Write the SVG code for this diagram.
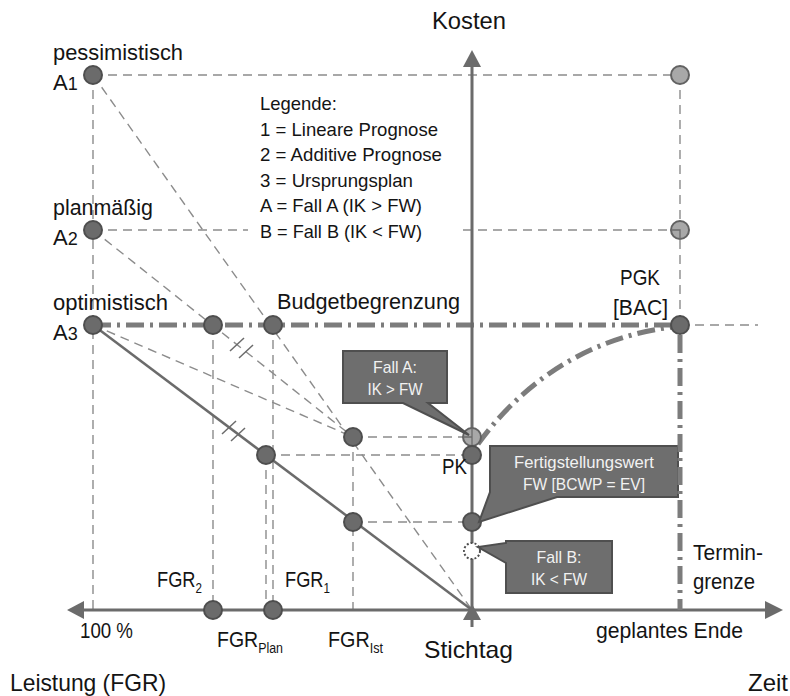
<svg xmlns="http://www.w3.org/2000/svg" width="790" height="696" viewBox="0 0 790 696">
  <defs>
    <style>
      text { font-family: "Liberation Sans Narrow", "Liberation Sans", Arial, sans-serif; fill: #141414; }
      .lbl { font-size: 22px; }
      .big { font-size: 24px; }
      .leg { font-size: 19px; }
      .sub { font-size: 14px; }
      .box-t { font-size: 17px; fill: #f2f2f2; text-anchor: middle; }
      .thin { stroke: #8c8c8c; stroke-width: 1.4; stroke-dasharray: 9 6; fill: none; }
      .thick { stroke: #7c7c7c; stroke-width: 5; stroke-dasharray: 18 6 3 6; fill: none; }
      .axis { stroke: #6b6b6b; stroke-width: 3; fill: none; }
      .tick { stroke: #6b6b6b; stroke-width: 1.5; }
      .pt { fill: #6b6b6b; stroke: #4e4e4e; stroke-width: 2; }
      .pt-light { fill: #a8a8a8; stroke: #626262; stroke-width: 2; }
      .callout { fill: #6e6e6e; stroke: #4f4f4f; stroke-width: 2; stroke-linejoin: miter; }
      .head { fill: #6b6b6b; }
    </style>
  </defs>

  <rect width="790" height="696" fill="#ffffff"/>

  <!-- connectors: guide lines, prognosis lines and axes -->
  <g id="connectors">
    <!-- thin dashed guides -->
    <line class="thin" x1="93" y1="75" x2="93" y2="610"/>
    <line class="thin" x1="93" y1="75" x2="680" y2="75"/>
    <line class="thin" x1="93" y1="230" x2="248" y2="230"/>
    <line class="thin" x1="463" y1="230" x2="680" y2="230"/>
    <line class="thin" x1="680" y1="75" x2="680" y2="325"/>
    <line class="thin" x1="680" y1="325" x2="758" y2="325"/>
    <line class="thin" x1="213" y1="325" x2="213" y2="610"/>
    <line class="thin" x1="273" y1="325" x2="273" y2="610"/>
    <line class="thin" x1="266" y1="455" x2="266" y2="610"/>
    <line class="thin" x1="353" y1="437" x2="353" y2="610"/>
    <line class="thin" x1="353" y1="437" x2="472" y2="437"/>
    <line class="thin" x1="266" y1="455" x2="472" y2="455"/>
    <line class="thin" x1="353" y1="522" x2="472" y2="522"/>
    <!-- prognosis rays -->
    <line class="thin" x1="93" y1="75" x2="472" y2="610"/>
    <line class="thin" x1="93" y1="230" x2="353" y2="437"/>
    <line class="thin" x1="93" y1="325" x2="353" y2="437"/>
    <!-- original plan line -->
    <line x1="93" y1="325" x2="472" y2="610" stroke="#6b6b6b" stroke-width="2.5"/>
    <!-- parallel marks -->
    <line class="tick" x1="222" y1="434" x2="236" y2="421"/>
    <line class="tick" x1="231" y1="441" x2="245" y2="428"/>
    <line class="tick" x1="230" y1="351" x2="244" y2="338"/>
    <line class="tick" x1="239" y1="358" x2="253" y2="345"/>
    <!-- budget limit and cost curve -->
    <line class="thick" x1="93" y1="325" x2="680" y2="325"/>
    <path class="thick" d="M478,444 C510,400 570,340 672,327"/>
    <!-- axes -->
    <line class="axis" x1="83" y1="610" x2="766" y2="610"/>
    <line class="axis" x1="472" y1="627" x2="472" y2="66"/>
    <polygon class="head" points="67,610 84,601 84,619"/>
    <polygon class="head" points="783,610 765,601 765,619"/>
    <polygon class="head" points="472,50 463,67 481,67"/>
    <polygon class="head" points="472,604 463,620 481,620"/>
  </g>

  <!-- scenario points on the cost axis at 100 % -->
  <g id="node-a1"><circle class="pt" cx="93" cy="75" r="9"/></g>
  <g id="node-a2"><circle class="pt" cx="93" cy="230" r="9"/></g>
  <g id="node-a3"><circle class="pt" cx="93" cy="325" r="9"/></g>
  <!-- forecast end points -->
  <g id="node-end-pess"><circle class="pt-light" cx="680" cy="75" r="9"/></g>
  <g id="node-end-plan">
    <circle class="pt-light" cx="680" cy="230" r="9"/>
    <path d="M671,230 H680 V239" stroke="#6b6b6b" stroke-width="1.3" fill="none"/>
  </g>
  <g id="node-pgk"><circle class="pt" cx="680" cy="325" r="9"/></g>
  <!-- budget limit intersections -->
  <g id="node-b2"><circle class="pt" cx="213" cy="325" r="9"/></g>
  <g id="node-b1"><circle class="pt" cx="273" cy="325" r="9"/></g>
  <!-- intermediate points -->
  <g id="node-ist-cost"><circle class="pt" cx="353" cy="437" r="9"/></g>
  <g id="node-plan"><circle class="pt" cx="266" cy="455" r="9"/></g>
  <g id="node-ist"><circle class="pt" cx="353" cy="522" r="9"/></g>
  <!-- points on the reporting-date axis -->
  <g id="node-ik-a">
    <circle class="pt-light" cx="472" cy="437" r="9"/>
    <path d="M463,437 H472 M472,428 V446" stroke="#6b6b6b" stroke-width="1.3" fill="none"/>
  </g>
  <g id="node-pk"><circle class="pt" cx="472" cy="455" r="9"/></g>
  <g id="node-fw"><circle class="pt" cx="472" cy="522" r="9"/></g>
  <g id="node-ik-b"><circle cx="472" cy="551" r="8" fill="#ffffff" stroke="#4e4e4e" stroke-width="2" stroke-dasharray="2 2"/></g>
  <!-- progress axis points -->
  <g id="node-fgr2"><circle class="pt" cx="213" cy="610" r="9"/></g>
  <g id="node-fgrplan"><circle class="pt" cx="273" cy="610" r="9"/></g>

  <!-- callouts -->
  <g id="callout-a">
    <path class="callout" d="M343,351 H447 V403 H428 L469,435 L403,403 H343 Z"/>
    <text class="box-t" x="395" y="373" textLength="44" lengthAdjust="spacingAndGlyphs">Fall A:</text>
    <text class="box-t" x="395" y="395" textLength="55" lengthAdjust="spacingAndGlyphs">IK &gt; FW</text>
  </g>
  <g id="callout-fw">
    <path class="callout" d="M490,446 H678 V497 H557 L479,522 L490,492 Z"/>
    <text class="box-t" x="584" y="468" textLength="140" lengthAdjust="spacingAndGlyphs">Fertigstellungswert</text>
    <text class="box-t" x="584" y="490" textLength="122" lengthAdjust="spacingAndGlyphs">FW [BCWP = EV]</text>
  </g>
  <g id="callout-b">
    <path class="callout" d="M506,541 H612 V593 H506 V563 L478,547 L506,543 Z"/>
    <text class="box-t" x="559" y="563" textLength="45" lengthAdjust="spacingAndGlyphs">Fall B:</text>
    <text class="box-t" x="559" y="585" textLength="56" lengthAdjust="spacingAndGlyphs">IK &lt; FW</text>
  </g>

  <!-- deadline line drawn over the callout edge -->
  <g id="deadline">
    <line class="thick" x1="680" y1="335" x2="680" y2="610" stroke-width="4.5" stroke-dasharray="20 6 3 6"/>
  </g>

  <!-- legend -->
  <g id="legend">
    <text class="leg" x="260" y="110" textLength="77" lengthAdjust="spacingAndGlyphs">Legende:</text>
    <text class="leg" x="260" y="136" textLength="178" lengthAdjust="spacingAndGlyphs">1 = Lineare Prognose</text>
    <text class="leg" x="260" y="161" textLength="182" lengthAdjust="spacingAndGlyphs">2 = Additive Prognose</text>
    <text class="leg" x="260" y="187" textLength="153" lengthAdjust="spacingAndGlyphs">3 = Ursprungsplan</text>
    <text class="leg" x="260" y="212" textLength="162" lengthAdjust="spacingAndGlyphs">A = Fall A (IK &gt; FW)</text>
    <text class="leg" x="260" y="238" textLength="162" lengthAdjust="spacingAndGlyphs">B = Fall B (IK &lt; FW)</text>
  </g>

  <!-- labels -->
  <g id="labels">
    <text class="big" x="432" y="29" textLength="74" lengthAdjust="spacingAndGlyphs">Kosten</text>
    <text class="lbl" x="53" y="60" textLength="130" lengthAdjust="spacingAndGlyphs">pessimistisch</text>
    <text class="lbl" x="53" y="90">A<tspan font-size="18">1</tspan></text>
    <text class="lbl" x="53" y="215" textLength="100" lengthAdjust="spacingAndGlyphs">planmäßig</text>
    <text class="lbl" x="53" y="245">A<tspan font-size="18">2</tspan></text>
    <text class="lbl" x="53" y="310" textLength="115" lengthAdjust="spacingAndGlyphs">optimistisch</text>
    <text class="lbl" x="53" y="340">A<tspan font-size="18">3</tspan></text>
    <text class="lbl" x="277" y="309" textLength="183" lengthAdjust="spacingAndGlyphs">Budgetbegrenzung</text>
    <text class="lbl" x="620" y="285" textLength="40" lengthAdjust="spacingAndGlyphs">PGK</text>
    <text class="lbl" x="613" y="315" textLength="55" lengthAdjust="spacingAndGlyphs">[BAC]</text>
    <text class="lbl" x="442" y="474" textLength="25" lengthAdjust="spacingAndGlyphs">PK</text>
    <text class="lbl" x="157" y="587" textLength="45" lengthAdjust="spacingAndGlyphs">FGR<tspan class="sub" dy="6">2</tspan></text>
    <text class="lbl" x="285" y="587" textLength="45" lengthAdjust="spacingAndGlyphs">FGR<tspan class="sub" dy="6">1</tspan></text>
    <text class="lbl" x="80" y="638" textLength="53" lengthAdjust="spacingAndGlyphs">100 %</text>
    <text class="lbl" x="217" y="647" textLength="66" lengthAdjust="spacingAndGlyphs">FGR<tspan class="sub" dy="6">Plan</tspan></text>
    <text class="lbl" x="328" y="647" textLength="55" lengthAdjust="spacingAndGlyphs">FGR<tspan class="sub" dy="6">Ist</tspan></text>
    <text class="big" x="424" y="658" textLength="89" lengthAdjust="spacingAndGlyphs">Stichtag</text>
    <text class="lbl" x="596" y="638" textLength="147" lengthAdjust="spacingAndGlyphs">geplantes Ende</text>
    <text class="lbl" x="693" y="560" textLength="70" lengthAdjust="spacingAndGlyphs">Termin-</text>
    <text class="lbl" x="693" y="589" textLength="62" lengthAdjust="spacingAndGlyphs">grenze</text>
    <text class="big" x="10" y="691" textLength="156" lengthAdjust="spacingAndGlyphs">Leistung (FGR)</text>
    <text class="big" x="748" y="691" textLength="40" lengthAdjust="spacingAndGlyphs">Zeit</text>
  </g>
</svg>
